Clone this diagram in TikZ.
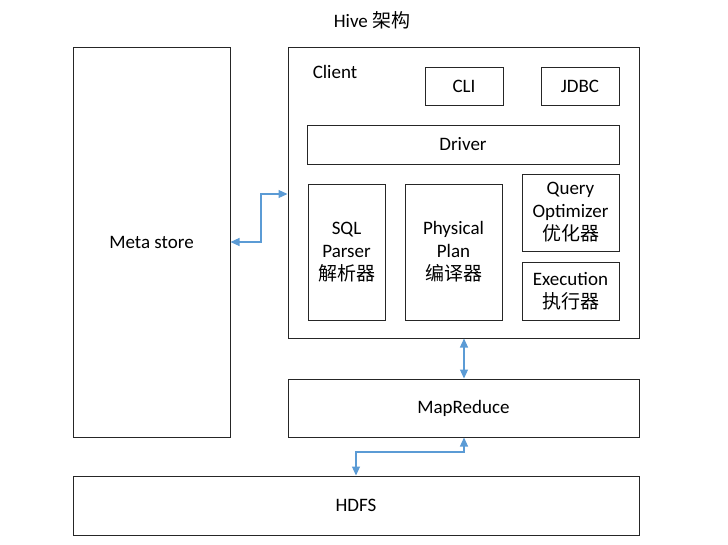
\documentclass[tikz,border=0pt]{standalone}
\usepackage{fontspec}
\setmainfont{Carlito}
\newfontfamily\cjk{Noto Sans CJK SC}
\usetikzlibrary{arrows.meta}
\definecolor{arrowblue}{HTML}{5B9BD5}
\definecolor{boxline}{HTML}{262626}
\begin{document}
\begin{tikzpicture}[x=1pt,y=-1pt,
  box/.style={draw=boxline,line width=1pt,inner sep=0pt,align=center,font=\fontsize{19}{23}\selectfont},
  link/.style={draw=arrowblue,line width=1.2pt,{Triangle[length=9pt,width=8pt]}-{Triangle[length=9pt,width=8pt]}},
  lbl/.style={inner sep=0pt,font=\fontsize{19}{23}\selectfont}]
\useasboundingbox (0,0) rectangle (728,544);
\node[lbl] (title) at (372,20) {Hive {\cjk 架构}};
\node[box,minimum width=157pt,minimum height=390pt] (meta) at (151.5,242) {Meta store};
\node[box,minimum width=351pt,minimum height=291pt] (client) at (463.5,192.5) {};
\node[lbl] (clientlbl) at (335,72) {Client};
\node[box,minimum width=78pt,minimum height=38pt] (cli) at (464,86) {CLI};
\node[box,minimum width=78pt,minimum height=38pt] (jdbc) at (580,86) {JDBC};
\node[box,minimum width=312pt,minimum height=39pt] (driver) at (463,144.5) {Driver};
\node[box,minimum width=77pt,minimum height=136pt] (sql) at (346.5,252) {SQL\\Parser\\{\cjk 解析器}};
\node[box,minimum width=97pt,minimum height=136pt] (plan) at (453.5,252) {Physical\\Plan\\{\cjk 编译器}};
\node[box,minimum width=97pt,minimum height=77pt] (opt) at (570.5,212.5) {Query\\Optimizer\\{\cjk 优化器}};
\node[box,minimum width=97pt,minimum height=58pt] (exec) at (570.5,291) {Execution\\{\cjk 执行器}};
\node[box,minimum width=351pt,minimum height=58pt] (mr) at (463.5,408) {MapReduce};
\node[box,minimum width=566pt,minimum height=59pt] (hdfs) at (356,505.5) {HDFS};
\draw[link] (meta.east |- 0,242) -- (261,242) -- (261,194) -- (client.west |- 0,194);
\draw[link] (client.south -| 464,0) -- (mr.north -| 464,0);
\draw[link] (mr.south -| 464,0) -- (464,452) -- (356,452) -- (hdfs.north -| 356,0);
\end{tikzpicture}
\end{document}
